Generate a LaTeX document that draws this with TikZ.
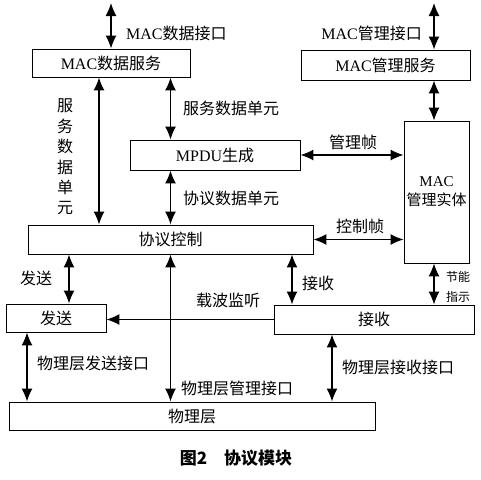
\documentclass[tikz,border=0pt]{standalone}
\usepackage{fontspec}
\setmainfont{Liberation Serif}
\newfontfamily\cjk{Noto Sans CJK SC}
\usetikzlibrary{arrows.meta}

\tikzset{
  blk/.style={draw,line width=0.9pt,inner sep=0pt,font=\fontsize{16}{19}\selectfont},
  lnk/.style={line width=1.3pt,{Latex[length=13pt,width=11pt]}-{Latex[length=13pt,width=11pt]}},
  onelnk/.style={line width=1.3pt,-{Latex[length=13pt,width=11pt]}},
  lbl/.style={font=\fontsize{16}{19}\selectfont\cjk,inner sep=0pt},
}

\begin{document}
\begin{tikzpicture}[x=1pt,y=-1pt]
\useasboundingbox (0,0) rectangle (481,479);
% boxes
\node[blk,minimum width=158pt,minimum height=28pt] (mds) at (111,63) {MAC\cjk 数据服务};
\node[blk,minimum width=169pt,minimum height=30pt] (mms) at (385.5,65) {MAC\cjk 管理服务};
\node[blk,minimum width=65pt,minimum height=142pt,align=center,font=\fontsize{15}{19}\selectfont] (mme) at (436.5,192) {MAC\\\cjk 管理实体};
\node[blk,minimum width=170pt,minimum height=30pt] (mpdu) at (215,155) {MPDU\cjk 生成};
\node[blk,minimum width=285pt,minimum height=29pt] (ctrl) at (170.5,239.5) {\cjk 协议控制};
\node[blk,minimum width=100pt,minimum height=28pt] (tx) at (56,318) {\cjk 发送};
\node[blk,minimum width=200pt,minimum height=29pt] (rx) at (374,319.5) {\cjk 接收};
\node[blk,minimum width=366pt,minimum height=28pt] (phy) at (192,416) {\cjk 物理层};

% interfaces on top
\coordinate (mdsin) at (111,3);
\coordinate (mmsin) at (434,3);
\draw[lnk] (mdsin) -- (mds.north);
\node[lbl,anchor=west] at (126,33) {{\rmfamily MAC}数据接口};
\draw[lnk] (mmsin) -- (mmsin |- mms.north);
\node[lbl,anchor=east] at (422,33) {{\rmfamily MAC}管理接口};
\draw[lnk] (mmsin |- mms.south) -- (mmsin |- mme.north);

% data path
\draw[lnk] ([xshift=-12pt]mds.south) -- ([xshift=-12pt]mds.south |- ctrl.north);
\node[lbl,align=center,font=\fontsize{16}{20.4}\selectfont\cjk] at (65,157) {服\\务\\数\\据\\单\\元};
\draw[lnk] (ctrl.north |- mds.south) -- (ctrl.north |- mpdu.north);
\node[lbl,anchor=west] at (183,108) {服务数据单元};
\draw[lnk] (ctrl.north |- mpdu.south) -- (ctrl.north);
\node[lbl,anchor=west] at (183,198) {协议数据单元};

% frames to management entity
\draw[lnk] (mpdu.east) -- (mpdu.east -| mme.west);
\node[lbl] at (353,142) {管理帧};
\draw[lnk] (ctrl.east) -- (ctrl.east -| mme.west);
\node[lbl] at (360,226) {控制帧};

% send / receive
\draw[lnk] ([xshift=13pt]tx.north |- ctrl.south) -- ([xshift=13pt]tx.north);
\node[lbl] at (36,278) {发送};
\draw[lnk] (ctrl.south -| 292,0) -- (rx.north -| 292,0);
\node[lbl] at (318,283) {接收};
\draw[lnk] (mmsin |- mme.south) -- (mmsin |- rx.north);
\node[lbl,align=center,font=\fontsize{12}{20}\selectfont\cjk] at (458,287) {节能\\指示};
\draw[onelnk] (rx.west) -- (rx.west -| tx.east);
\node[lbl] at (228,300) {载波监听};

% physical layer interfaces
\draw[lnk] ([xshift=-29pt]tx.south) -- ([xshift=-29pt]tx.south |- phy.north);
\node[lbl,anchor=west] at (37,363) {物理层发送接口};
\draw[lnk] (ctrl.south) -- (ctrl.south |- phy.north);
\node[lbl,anchor=west] at (181,388) {物理层管理接口};
\draw[lnk] (rx.south -| 332,0) -- (phy.north -| 332,0);
\node[lbl,anchor=west] at (342,367) {物理层接收接口};

% caption
\node[font=\fontsize{17}{20}\selectfont\cjk\bfseries] (cap) at (236,458) {图2\hspace{1em}协议模块};
\end{tikzpicture}
\end{document}
